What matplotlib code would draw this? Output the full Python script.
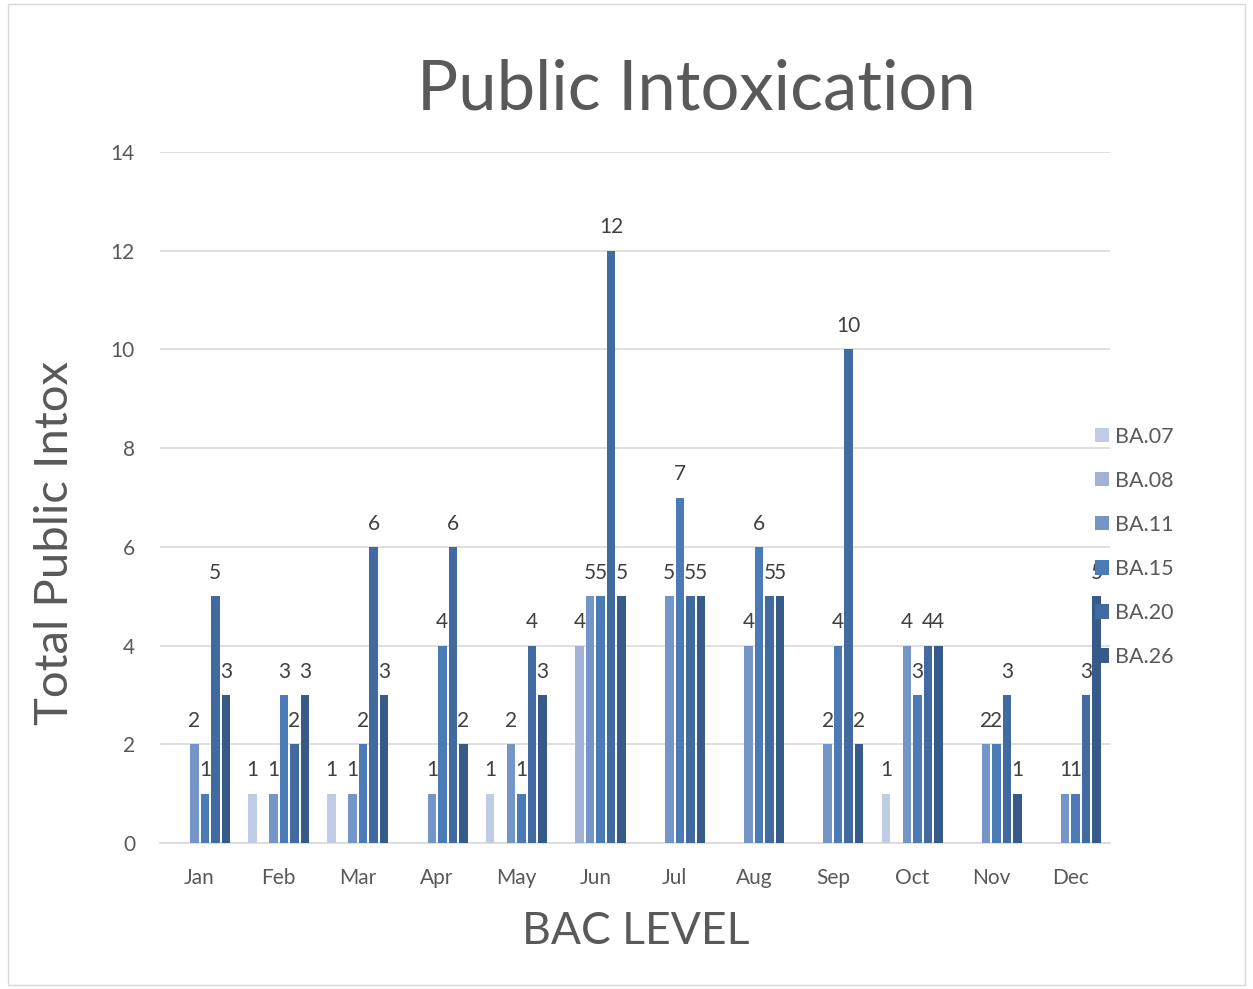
import matplotlib.pyplot as plt
from matplotlib.patches import Rectangle, Patch
import numpy as np

plt.rcParams['font.family'] = ['Lato', 'DejaVu Sans']

months = ['Jan', 'Feb', 'Mar', 'Apr', 'May', 'Jun', 'Jul', 'Aug', 'Sep', 'Oct', 'Nov', 'Dec']
series = ['BA.07', 'BA.08', 'BA.11', 'BA.15', 'BA.20', 'BA.26']

# 0 = empty cell (no bar, no label)
ba07 = [0, 1, 1, 0, 1, 0, 0, 0, 0, 1, 0, 0]
ba08 = [0, 0, 0, 0, 0, 4, 0, 0, 0, 0, 0, 0]
ba11 = [2, 1, 1, 1, 2, 5, 5, 4, 2, 4, 2, 1]
ba15 = [1, 3, 2, 4, 1, 5, 7, 6, 4, 3, 2, 1]
ba20 = [5, 2, 6, 6, 4, 12, 5, 5, 10, 4, 3, 3]
ba26 = [3, 3, 3, 2, 3, 5, 5, 5, 2, 4, 1, 5]
values = [ba07, ba08, ba11, ba15, ba20, ba26]

colors = ['#c0cce3', '#a0b3d7', '#7395c8', '#4a7bb7', '#416aa0', '#365b8a']

fig = plt.figure(figsize=(12.53, 9.89), dpi=100)
ax = fig.add_axes([160/1253, 1 - 843/989, 950/1253, 691/989])

x = np.arange(len(months))
slot = 0.1326
width = 0.108
for i, (name, vals, c) in enumerate(zip(series, values, colors)):
    pos = x + (i - 2.5) * slot
    v = np.array(vals, dtype=float)
    ax.bar(pos[v > 0], v[v > 0], width=width, color=c, label=name, zorder=3)
    for p, val in zip(pos, v):
        if val > 0:
            ax.text(p, val + 0.27, '%d' % val, ha='center', va='bottom',
                    fontsize=15, color='#404040', zorder=4)

ax.set_xlim(-0.5, 11.5)
ax.set_ylim(0, 14)
ax.set_yticks(range(0, 15, 2))
ax.set_xticks(x)
ax.set_xticklabels(months)
ax.grid(axis='y', color='#d9d9d9', linewidth=1.2, zorder=0)
for s in ['top', 'right', 'left']:
    ax.spines[s].set_visible(False)
ax.spines['bottom'].set_color('#d9d9d9')
ax.spines['bottom'].set_linewidth(1.2)
ax.tick_params(length=0, labelsize=15, colors='#595959')
ax.tick_params(axis='x', pad=18)
ax.tick_params(axis='y', pad=18)

fig.text(696/1253, 1 - 90/989, 'Public Intoxication', ha='center', va='center',
         fontsize=49.5, color='#595959')
fig.text(55/1253, 1 - 543/989, 'Total Public Intox', ha='center', va='center',
         rotation=90, fontsize=34, color='#595959')
fig.text(636/1253, 1 - 932/989, 'BAC LEVEL', ha='center', va='center',
         fontsize=32, color='#595959')

handles = [Patch(facecolor=c, label=n) for n, c in zip(series, colors)]
fig.legend(handles=handles, loc='upper left', bbox_to_anchor=(1086/1253, 1 - 418/989),
           frameon=False, fontsize=15.5, labelcolor='#595959', handlelength=0.65,
           handleheight=0.65, handletextpad=0.3, labelspacing=1.12, borderaxespad=0)

fig.patches.append(Rectangle((8/1253, 4/989), 1237/1253, 981/989, transform=fig.transFigure,
                             fill=False, edgecolor='#d9d9d9', linewidth=1))

fig.savefig('out.png', dpi=100)
